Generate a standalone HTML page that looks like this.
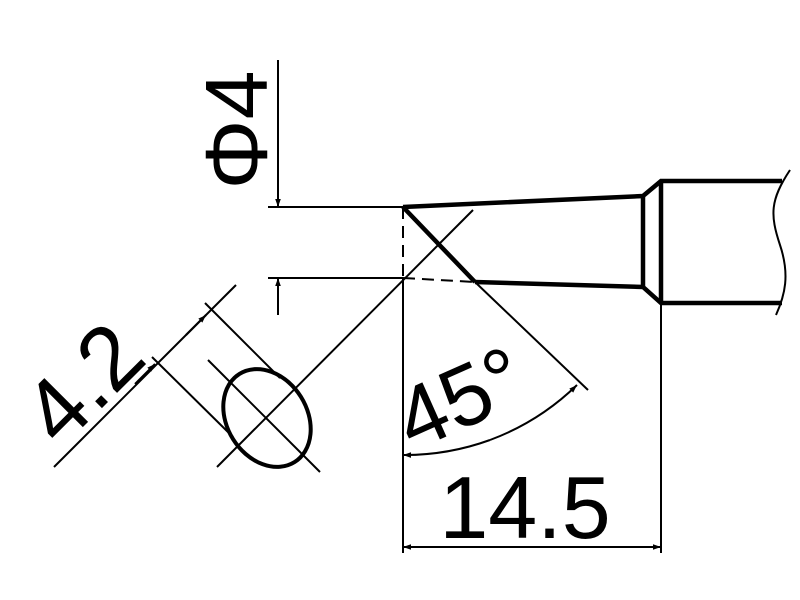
<!DOCTYPE html>
<html><head><meta charset="utf-8"><style>html,body{margin:0;padding:0;background:#fff}svg{display:block}</style></head>
<body>
<svg width="800" height="600" viewBox="0 0 800 600" xmlns="http://www.w3.org/2000/svg">
<defs>
<marker id="a" viewBox="0 0 10 10" refX="10" refY="5" markerWidth="12" markerHeight="8" markerUnits="userSpaceOnUse" orient="auto"><path d="M0,1.5 L10,5 L0,8.5 z" fill="#000"/></marker>
</defs>
<g stroke="#000" fill="none" stroke-width="2">
<path d="M403,207 L643,196 L661,181 L782,181" stroke-width="4.5"/>
<path d="M475,282 L643,287 L661,303 L782,303" stroke-width="4.5"/>
<path d="M643,196 L643,287" stroke-width="4.5"/>
<path d="M661,181 L661,303" stroke-width="4.5"/>
<path d="M403,207 L475,282" stroke-width="4.5"/>
<path d="M403,278 L475,282" stroke-dasharray="12,7"/>
<path d="M403,207 L403,278" stroke-dasharray="12,7"/>
<path d="M790,170 C770,200 770,215 780,245 C790,275 785,295 776,315" stroke-width="2"/>
<path d="M475,282 L588,390"/>
<path d="M403,278 L403,553"/>
<path d="M661,303 L661,553"/>
<path d="M268,207 L403,207"/>
<path d="M268,278 L403,278"/>
<path d="M278,60 L278,207" marker-end="url(#a)"/>
<path d="M278,315 L278,278" marker-end="url(#a)"/>
<path d="M532,547 L403,547" marker-end="url(#a)"/>
<path d="M532,547 L661,547" marker-end="url(#a)"/>
<path d="M490,440 A250,250 0 0 1 403,455" marker-end="url(#a)"/>
<path d="M490,440 A250,250 0 0 0 577,385" marker-end="url(#a)"/>
<path d="M217,467 L473,210"/>
<path d="M208,360 L320,472"/>
<path d="M152,357 L233,437"/>
<path d="M205,303 L280,378"/>
<path d="M54,467 L236,285"/>
<path d="M135,384 L155,364" marker-end="url(#a)"/>
<path d="M186,335 L206,315" marker-end="url(#a)"/>
<ellipse cx="267" cy="418" rx="40" ry="52" transform="rotate(-32 267 418)" stroke-width="4"/>
</g>
<g font-family="Liberation Sans, sans-serif" fill="#000">
<text x="525" y="538" font-size="88" text-anchor="middle">14.5</text>
<text transform="translate(267,130) rotate(-90)" font-size="88" text-anchor="middle">Φ4</text>
<text transform="translate(472,425) rotate(-24)" font-size="86" text-anchor="middle">45°</text>
<text transform="translate(105,405) rotate(-45)" font-size="90" text-anchor="middle">4.2</text>
</g>
</svg>
</body></html>
